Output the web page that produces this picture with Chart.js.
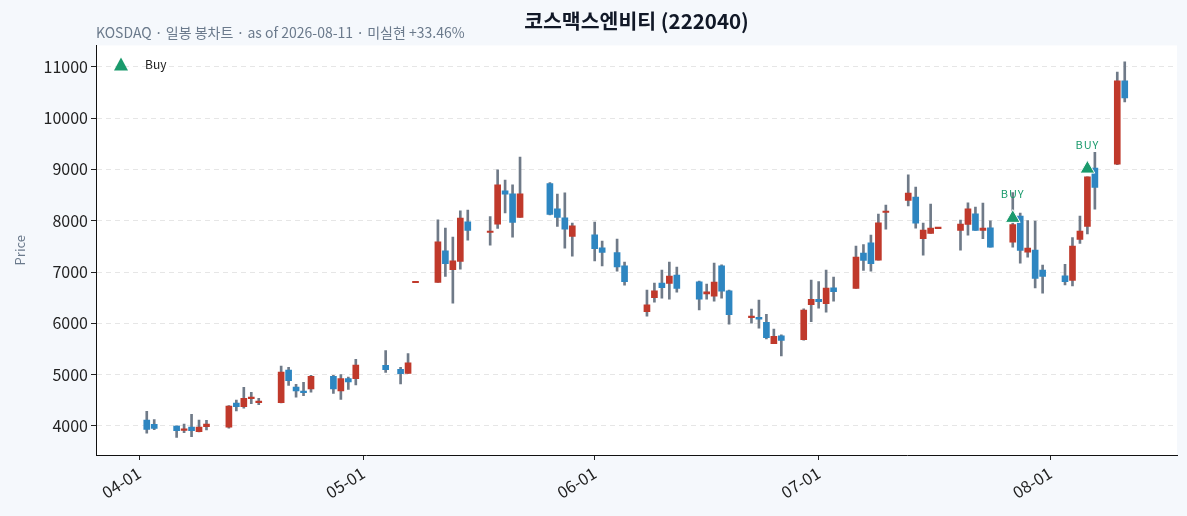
<!DOCTYPE html>
<html>
<head>
<meta charset="utf-8">
<script src="https://cdn.jsdelivr.net/npm/chart.js@4/dist/chart.umd.min.js"></script>
<style>
  html, body { margin: 0; padding: 0; background: #f5f8fc; }
  #wrap { width: 1187px; height: 516px; }
</style>
</head>
<body>
<div id="wrap"><canvas id="chart-candle"></canvas></div>
<script>
// daily OHLC
const dates = [
  '04-02', '04-03', '04-06', '04-07', '04-08', '04-09', '04-10',
  '04-13', '04-14', '04-15', '04-16', '04-17',
  '04-20', '04-21', '04-22', '04-23', '04-24',
  '04-27', '04-28', '04-29', '04-30',
  '05-04', '05-06', '05-07', '05-08',
  '05-11', '05-12', '05-13', '05-14', '05-15',
  '05-18', '05-19', '05-20', '05-21', '05-22',
  '05-26', '05-27', '05-28', '05-29',
  '06-01', '06-02', '06-04', '06-05',
  '06-08', '06-09', '06-10', '06-11', '06-12',
  '06-15', '06-16', '06-17', '06-18', '06-19',
  '06-22', '06-23', '06-24', '06-25', '06-26',
  '06-29', '06-30', '07-01', '07-02', '07-03',
  '07-06', '07-07', '07-08', '07-09', '07-10',
  '07-13', '07-14', '07-15', '07-16', '07-17',
  '07-20', '07-21', '07-22', '07-23', '07-24',
  '07-27', '07-28', '07-29', '07-30', '07-31',
  '08-03', '08-04', '08-05', '08-06', '08-07',
  '08-10', '08-11',
];
const open = [
  4117, 4033, 4000, 3915, 3980, 3890, 3987,
  3975, 4448, 4377, 4533, 4455,
  4455, 5091, 4760, 4665, 4722,
  4968, 4683, 4923, 4923,
  5182, 5104, 5026, 6790,
  6795, 7412, 7048, 7204, 7978,
  7770, 7932, 8582, 8524, 8063,
  8725, 8231, 8056, 7692,
  7725, 7471, 7380, 7120,
  6229, 6502, 6783, 6776, 6939,
  6808, 6574, 6529, 7120, 6632,
  6110, 6119, 6022, 5606, 5756,
  5684, 6366, 6470, 6385, 6691,
  6678, 7368, 7568, 7231, 8160,
  8394, 8459, 7652, 7750, 7845,
  7810, 7926, 8134, 7810, 7862,
  7582, 8089, 7387, 7426, 7036,
  6925, 6834, 7634, 7886, 9025,
  9103, 10727,
];
const high = [
  4287, 4124, 4005, 4039, 4228, 4117, 4110,
  4400, 4507, 4755, 4657, 4540,
  5165, 5142, 4813, 4852, 4988,
  4988, 5000, 4955, 5300,
  5468, 5143, 5410, 6810,
  8017, 7856, 7680, 8192, 8205,
  8082, 8992, 8790, 8699, 9240,
  8740, 8518, 8543, 7952,
  7972, 7601, 7640, 7192,
  6646, 6783, 7036, 7192, 7095,
  6822, 6763, 7172, 7140, 6646,
  6276, 6451, 6178, 5886, 5775,
  6281, 6841, 6815, 7036, 6900,
  7504, 7536, 7719, 8128, 8303,
  8894, 8654, 7952, 8323, 7860,
  8011, 8348, 8264, 8342, 7998,
  8550, 8148, 8004, 7991, 7133,
  7152, 7673, 8089, 8855, 9330,
  10897, 11097,
];
const low = [
  3858, 3929, 3779, 3870, 3792, 3885, 3922,
  3960, 4293, 4345, 4435, 4416,
  4450, 4790, 4560, 4592, 4657,
  4637, 4520, 4715, 4799,
  5045, 4819, 5026, 6790,
  6795, 6912, 6393, 7056, 7621,
  7524, 7847, 8153, 7680, 8063,
  8110, 7888, 7465, 7309,
  7217, 7120, 7016, 6743,
  6139, 6412, 6490, 6470, 6607,
  6262, 6470, 6432, 6490, 5983,
  6002, 5905, 5697, 5606, 5366,
  5671, 6034, 6294, 6217, 6432,
  6678, 7029, 7016, 7231, 7835,
  8290, 7855, 7328, 7750, 7845,
  7426, 7719, 7810, 7652, 7484,
  7484, 7172, 7289, 6692, 6588,
  6750, 6730, 7556, 7744, 8226,
  9090, 10312,
];
const close = [
  3935, 3955, 3909, 3925, 3909, 3980, 4039,
  4390, 4377, 4540, 4559, 4468,
  5052, 4883, 4683, 4650, 4968,
  4722, 4923, 4858, 5189,
  5097, 5019, 5233, 6810,
  7588, 7165, 7217, 8050, 7808,
  7785, 8699, 8518, 7966, 8524,
  8121, 8063, 7836, 7900,
  7457, 7380, 7100, 6814,
  6359, 6632, 6697, 6919, 6679,
  6470, 6613, 6802, 6626, 6170,
  6125, 6080, 5722, 5749, 5665,
  6256, 6470, 6424, 6685, 6619,
  7290, 7224, 7165, 7959, 8186,
  8537, 7952, 7816, 7855, 7860,
  7933, 8231, 7810, 7855, 7484,
  7926, 7419, 7465, 6874, 6912,
  6814, 7504, 7796, 8855, 8647,
  10727, 10390,
];

// buy signals
const buyDates = ['07-27', '08-06'];
const buyPrices = [8050, 9010];

const tickLabels = ['04-01', '05-01', '06-01', '07-01', '08-01'];
const yTicks = [4000, 5000, 6000, 7000, 8000, 9000, 10000, 11000];

const colors = {
  up: '#c0392b',
  down: '#2e86c1',
  wick: '#6f7a88',
  buy: '#1a9a6c',
  grid: '#e6e6e6',
  muted: '#6b7a8c',
};

const FONT = "'Noto Sans CJK KR', 'Noto Sans', sans-serif";

// day offset from 04-01
function dayNum(md) {
  const [m, d] = md.split('-').map(Number);
  return (Date.UTC(2026, m - 1, d) - Date.UTC(2026, 3, 1)) / 86400000;
}

const xs = dates.map(dayNum);
const isUp = close.map((c, i) => c >= open[i]);

const wickData = xs.map((x, i) => ({ x, y: [low[i], high[i]] }));
const bodyData = xs.map((x, i) => ({ x, y: [open[i], close[i]] }));
const buyData = buyDates.map((d, i) => ({ x: dayNum(d), y: buyPrices[i] }));

const plotBg = {
  id: 'plotBg',
  beforeDraw(chart) {
    const { ctx, chartArea: a } = chart;
    ctx.save();
    ctx.fillStyle = '#ffffff';
    ctx.fillRect(a.left, a.top, a.right - a.left, a.bottom - a.top);
    ctx.restore();
  },
};

// "BUY" text over each marker + legend box inside plot
const buyLabels = {
  id: 'buyLabels',
  afterDatasetsDraw(chart) {
    const meta = chart.getDatasetMeta(0);
    const { ctx, chartArea: a } = chart;
    ctx.save();
    ctx.font = `11px ${FONT}`;
    ctx.letterSpacing = '1px';
    ctx.fillStyle = colors.buy;
    ctx.textAlign = 'center';
    ctx.textBaseline = 'middle';
    meta.data.forEach(pt => ctx.fillText('BUY', pt.x, pt.y - 24));
    ctx.letterSpacing = '0px';

    // legend
    const lx = a.left + 25, ly = a.top + 19;
    ctx.beginPath();
    ctx.moveTo(lx, ly - 7);
    ctx.lineTo(lx + 7, ly + 6);
    ctx.lineTo(lx - 7, ly + 6);
    ctx.closePath();
    ctx.fillStyle = colors.buy;
    ctx.fill();
    ctx.fillStyle = '#222';
    ctx.textAlign = 'left';
    ctx.font = `12px ${FONT}`;
    ctx.fillText('Buy', lx + 24, ly);
    ctx.restore();
  },
};

new Chart(document.getElementById('chart-candle'), {
  type: 'bar',
  data: {
    datasets: [
      {
        type: 'scatter',
        label: 'Buy',
        data: buyData,
        pointStyle: 'triangle',
        pointRadius: 8.5,
        backgroundColor: colors.buy,
        borderColor: '#ffffff',
        borderWidth: 1,
        order: 0,
      },
      {
        label: 'body',
        data: bodyData,
        grouped: false,
        barThickness: 6,
        minBarLength: 1.5,
        backgroundColor: isUp.map(u => u ? colors.up : colors.down),
        borderWidth: 0,
        order: 1,
      },
      {
        label: 'wick',
        data: wickData,
        grouped: false,
        barThickness: 2,
        backgroundColor: colors.wick,
        borderWidth: 0,
        order: 2,
      },
    ],
  },
  options: {
    responsive: true,
    maintainAspectRatio: false,
    animation: false,
    layout: { padding: { left: 8, right: 10, top: 0, bottom: 4 } },
    plugins: {
      title: {
        display: true,
        text: '코스맥스엔비티 (222040)',
        fullSize: false,
        color: '#111827',
        font: { family: FONT, size: 20.5, weight: 'bold' },
        padding: { top: 9, bottom: -9 },
      },
      subtitle: {
        display: true,
        text: 'KOSDAQ · 일봉 봉차트 · as of 2026-08-11 · 미실현 +33.46%',
        align: 'start',
        fullSize: false,
        color: colors.muted,
        font: { family: FONT, size: 14 },
        padding: { top: 0, bottom: 4 },
      },
      legend: { display: false },
      tooltip: { enabled: false },
    },
    scales: {
      x: {
        type: 'linear',
        offset: false,
        min: -5.8,
        max: 139,
        afterBuildTicks(scale) {
          scale.ticks = tickLabels.map(t => ({ value: dayNum(t) }));
        },
        afterFit(scale) { scale.height = 57; },
        ticks: {
          callback: v => tickLabels.find(t => dayNum(t) === v) || '',
          maxRotation: 32,
          minRotation: 32,
          color: '#222',
          font: { family: FONT, size: 16.5 },
        },
        grid: { offset: false, drawOnChartArea: false, tickColor: '#222', tickLength: 5 },
        border: { color: '#111', width: 1 },
      },
      y: {
        min: 3435,
        max: 11415,
        afterBuildTicks(scale) {
          scale.ticks = yTicks.map(v => ({ value: v }));
        },
        afterFit(scale) { scale.width = 88; },
        title: {
          display: true,
          text: 'Price',
          color: colors.muted,
          font: { family: FONT, size: 13 },
        },
        ticks: {
          callback: v => String(v),
          color: '#222',
          font: { family: FONT, size: 16 },
        },
        grid: { color: colors.grid, tickColor: '#222', tickLength: 5, tickBorderDash: [] },
        border: { color: '#111', width: 1, dash: [5, 4] },
      },
    },
  },
  plugins: [plotBg, buyLabels],
});
</script>
</body>
</html>
